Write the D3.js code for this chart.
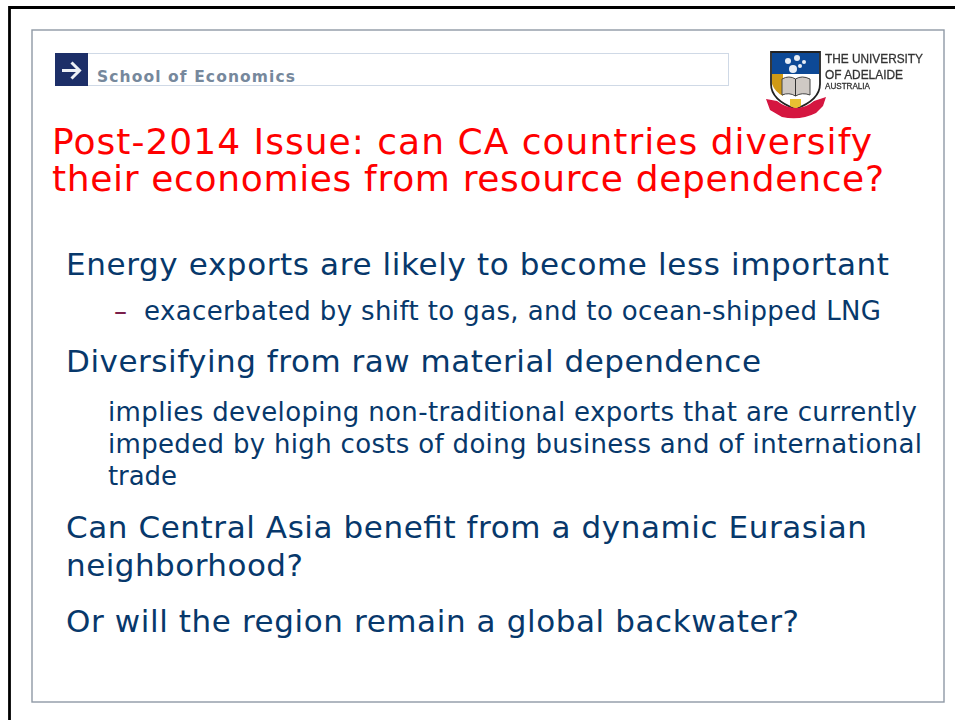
<!DOCTYPE html>
<html><head><meta charset="utf-8">
<script src="https://cdn.jsdelivr.net/npm/d3@7/dist/d3.min.js"></script>
<style>html,body{margin:0;padding:0;background:#fff;overflow:hidden}svg{display:block}</style>
</head><body><svg id="c" width="955" height="720"></svg>
<script>
const headerLabel = "School of Economics";
const titleLines = ["Post-2014 Issue: can CA countries diversify","their economies from resource dependence?"];
const bulletLines = ["Energy exports are likely to become less important","Diversifying from raw material dependence","Can Central Asia benefit from a dynamic Eurasian","neighborhood?","Or will the region remain a global backwater?"];
const subDashLines = ["exacerbated by shift to gas, and to ocean-shipped LNG"];
const subPlainLines = ["implies developing non-traditional exports that are currently","impeded by high costs of doing business and of international","trade"];
const logoLines = ["THE UNIVERSITY","OF ADELAIDE","AUSTRALIA"];

const titleY = [154,191], titleW=[820,832];
const bulletY = [274.5,372,537.5,575.5,631.5], bulletW=[823,695,801,237,733];
const dashY = [320], dashW=[737];
const plainY = [421,453,485], plainW=[809,814,69];
const logoY=[63,78.5,89], logoW=[98,78,45], logoS=[13,13,8.2];

const svg = d3.select("#c");
const FONT = "'DejaVu Sans',Verdana,sans-serif";
const navy = "#07386b";

svg.append("defs").append("filter").attr("id","soft").append("feGaussianBlur").attr("stdDeviation",0.55);

// frames
svg.append("path").attr("d","M9.5 720V7.5H955").attr("fill","none").attr("stroke","#000").attr("stroke-width",2.8);
svg.append("rect").attr("x",32).attr("y",30).attr("width",912).attr("height",672)
  .attr("fill","#fff").attr("stroke","#8f99a5").attr("stroke-width",1.4);

// header bar
svg.append("rect").attr("x",55.5).attr("y",53.5).attr("width",673).attr("height",32)
  .attr("fill","#fff").attr("stroke","#cfd9e6").attr("stroke-width",1);
svg.append("rect").attr("x",55).attr("y",53).attr("width",33).attr("height",33).attr("fill","#1d2f68");
svg.append("path").attr("d","M62 70.5H79M71.5 62.5L79.5 70.5L71.5 78.5").attr("fill","none").attr("stroke","#eef1f6").attr("stroke-width",3).attr("filter","url(#soft)");
svg.append("text").attr("x",97).attr("y",82).attr("font-family",FONT).attr("font-weight","bold").attr("font-size",15.5)
  .attr("letter-spacing",1.1).attr("fill","#76889c").text(headerLabel);

// text blocks (each line fitted to its width in the slide)
function block(lines, ys, ws, x, size, color){
  svg.append("g").selectAll("text").data(lines).join("text")
    .attr("x",x).attr("y",(d,i)=>ys[i]).attr("textLength",(d,i)=>ws[i]).attr("lengthAdjust","spacing")
    .attr("font-family",FONT).attr("font-size",size).attr("fill",color).text(d=>d);
}
block(titleLines,titleY,titleW,52,36,"#ff0000");
block(bulletLines,bulletY,bulletW,66,31,navy);
block(subDashLines,dashY,dashW,144,26,navy);
block(subPlainLines,plainY,plainW,108,26,navy);
svg.append("text").attr("x",114).attr("y",dashY[0]).attr("font-family",FONT).attr("font-size",26).attr("fill","#7a1f4a").text("–");

// crest
const crest = svg.append("g").attr("filter","url(#soft)");
crest.append("path").attr("d","M771 52H820V84Q820 100 795.5 109Q771 100 771 84Z").attr("fill","#fff").attr("stroke","#222").attr("stroke-width",1.8);
crest.append("rect").attr("x",772).attr("y",53).attr("width",47).attr("height",21).attr("fill","#114a96");
crest.append("path").attr("d","M772 74H783V96Q775 92 772 84Z").attr("fill","#cf9a12");
crest.append("path").attr("d","M790 99H801V106L795.5 108.5L790 106Z").attr("fill","#e8c030");
const stars=[[788,61,3],[797,58,3],[804,62,2],[800,66,2],[793,69,4]];
crest.selectAll("circle").data(stars).join("circle").attr("cx",d=>d[0]).attr("cy",d=>d[1]).attr("r",d=>d[2]).attr("fill","#e8eef6");
crest.append("path").attr("d","M782 79Q789 75 795.5 79Q802 75 810 79V95Q802 92 795.5 96Q789 92 782 95Z").attr("fill","#cfc9c4").attr("stroke","#444").attr("stroke-width",1);
crest.append("path").attr("d","M795.5 79V96").attr("stroke","#333").attr("stroke-width",1);
crest.append("path").attr("d","M766 99L777 101Q786 108 796 108Q806 108 814 101L826 97L823 106L816 113Q800 121 782 117L770 110Z").attr("fill","#d5123f");

// logo text
svg.append("g").attr("filter","url(#soft)").selectAll("text").data(logoLines).join("text")
  .attr("x",825).attr("y",(d,i)=>logoY[i]).attr("font-family","'Liberation Sans',Arial,sans-serif")
  .attr("font-size",(d,i)=>logoS[i]).attr("fill","#333").attr("stroke","#333").attr("stroke-width",0.3)
  .attr("textLength",(d,i)=>logoW[i]).attr("lengthAdjust","spacingAndGlyphs").text(d=>d);
</script></body></html>
